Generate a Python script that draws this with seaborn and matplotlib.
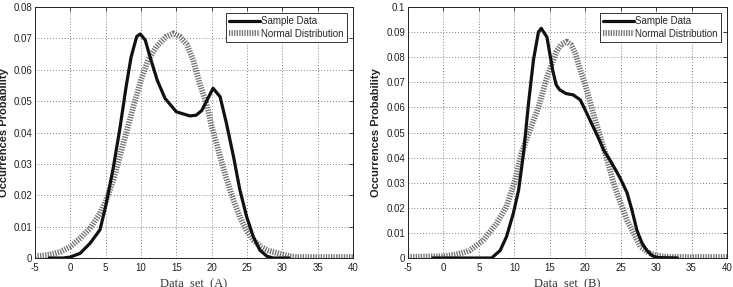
import matplotlib
matplotlib.use("Agg")
import matplotlib.pyplot as plt
import seaborn as sns
import numpy as np
import pandas as pd

# 데이터
sample_a_x = [-3, -1, 0, 1.4, 2.8, 4.2, 5, 6.1, 7, 7.9, 8.6, 9.4, 9.9, 10.6, 11.3, 12.3, 13.4, 15,
              16.9, 17.8, 18.6, 19.4, 20.2, 21.2, 22.1, 23.1, 24, 24.95, 25.9, 26.8, 27.8, 28.7, 31]
sample_a_y = [0, 0, 0.0003, 0.0015, 0.0047, 0.009, 0.0164, 0.029, 0.041, 0.0546, 0.064, 0.0706,
              0.0714, 0.0695, 0.064, 0.0567, 0.0509, 0.0466, 0.0453, 0.0455, 0.047, 0.0505, 0.0541,
              0.0514, 0.0429, 0.0323, 0.0217, 0.0132, 0.0068, 0.0026, 0.0006, 0, 0]

normal_a_x = [-5, -3, -1.4, 0, 1.4, 2.8, 4.2, 5, 6.1, 7, 7.9, 8.9, 10, 11, 12.2, 13.6, 14.6, 15.5,
              16.5, 17.4, 18.3, 19.3, 20, 21, 22, 23, 24, 25, 26, 27, 28, 29.7, 31, 32, 40]
normal_a_y = [0.0005, 0.001, 0.002, 0.0036, 0.0063, 0.0095, 0.0142, 0.018, 0.0249, 0.0323, 0.0397,
              0.048, 0.0567, 0.063, 0.0674, 0.0706, 0.0716, 0.0706, 0.068, 0.063, 0.0557, 0.049,
              0.042, 0.034, 0.026, 0.019, 0.013, 0.0085, 0.0055, 0.0035, 0.0024, 0.0013, 0.0006,
              0.0003, 0.0003]

sample_b_x = [-1.5, 6.8, 8.0, 8.9, 9.86, 10.6, 11.3, 12.0, 12.7, 13.4, 13.8, 14.6, 15.0, 15.4, 15.9,
              16.4, 17.3, 18.3, 19.3, 20, 21, 22, 22.6, 23.5, 24.9, 25.9, 26.6, 27.3, 28, 28.7, 29.4,
              30.1, 33]
sample_b_y = [0, 0, 0.003, 0.0085, 0.0178, 0.027, 0.0417, 0.0616, 0.0789, 0.090, 0.0915, 0.088,
              0.0815, 0.075, 0.069, 0.067, 0.0655, 0.065, 0.063, 0.059, 0.053, 0.047, 0.043, 0.039,
              0.032, 0.026, 0.019, 0.011, 0.006, 0.003, 0.001, 0.0002, 0]

normal_b_x = [-5, 0, 1.4, 2.5, 3.7, 5.6, 7.5, 8.9, 10.1, 11, 12.2, 13.4, 14.6, 15.9, 16.6, 17.4, 18,
              18.6, 19.3, 20, 21.4, 22.8, 24.2, 25.9, 27.8, 29, 30, 31, 32, 40]
normal_b_y = [0.0004, 0.0007, 0.0012, 0.0019, 0.003, 0.007, 0.0138, 0.0205, 0.031, 0.0417, 0.051,
              0.060, 0.072, 0.082, 0.085, 0.0862, 0.085, 0.0815, 0.075, 0.069, 0.055, 0.042, 0.028,
              0.015, 0.0045, 0.002, 0.001, 0.0006, 0.0004, 0.0004]

x_ticks = [-5, 0, 5, 10, 15, 20, 25, 30, 35, 40]
y_ticks_a = [0, 0.01, 0.02, 0.03, 0.04, 0.05, 0.06, 0.07, 0.08]
y_ticks_b = [0, 0.01, 0.02, 0.03, 0.04, 0.05, 0.06, 0.07, 0.08, 0.09, 0.1]

sns.set_style("white")
plt.rcParams['font.family'] = ['Liberation Sans Narrow', 'Liberation Sans', 'DejaVu Sans']
plt.rcParams['axes.unicode_minus'] = False

fig = plt.figure(figsize=(7.33, 2.87), dpi=100)
ax_a = fig.add_axes([0.0477, 0.101, 0.4338, 0.8746])
ax_b = fig.add_axes([0.5566, 0.101, 0.4352, 0.8746])


def draw(ax, sx, sy, nx, ny, yticks, ylim, name):
    sns.lineplot(x=nx, y=ny, ax=ax, color='#707070', lw=4.2, sort=False,
                 linestyle=(0, (0.22, 0.22)), dash_capstyle='butt', label='Normal Distribution')
    sns.lineplot(x=sx, y=sy, ax=ax, color='#111111', lw=2.3, sort=False, label='Sample Data',
                 solid_joinstyle='round')
    ax.set_xlim(-5, 40)
    ax.set_ylim(*ylim)
    ax.set_xticks(x_ticks)
    ax.set_yticks(yticks)
    ax.set_yticklabels(['0'] + ['%g' % v for v in yticks[1:]])
    ax.tick_params(direction='in', length=3, width=0.6, labelsize=7, top=True, right=True,
                   pad=2, colors='#222222')
    ax.tick_params(axis='x', pad=3.5)
    ax.grid(True, linestyle=(0, (1, 2.5)), color='#555555', linewidth=0.6)
    for s in ax.spines.values():
        s.set_visible(True)
        s.set_color('#222222')
        s.set_linewidth(0.7)
    ax.set_xlabel('Data  set  (' + name + ')', family=['Liberation Serif', 'DejaVu Serif'],
                  fontsize=9, labelpad=4, color='#333333')
    ax.set_ylabel('Occurrences Probability', family=['Liberation Sans', 'DejaVu Sans'],
                  fontsize=8, fontweight='bold', color='#222222')
    h, l = ax.get_legend_handles_labels()
    leg = ax.legend(h[::-1], l[::-1], loc='upper right', fontsize=7, frameon=True, fancybox=False,
                    borderpad=0.35, handlelength=3.2, handletextpad=0.1, labelspacing=0.25,
                    borderaxespad=0.6, edgecolor='#333333', framealpha=1)
    leg.get_frame().set_linewidth(0.7)


draw(ax_a, sample_a_x, sample_a_y, normal_a_x, normal_a_y, y_ticks_a, (0, 0.08), 'A')
draw(ax_b, sample_b_x, sample_b_y, normal_b_x, normal_b_y, y_ticks_b, (0, 0.1), 'B')
ax_a.yaxis.set_label_coords(-0.081, 0.5)
ax_b.yaxis.set_label_coords(-0.085, 0.5)

fig.savefig('out.png', dpi=100)
